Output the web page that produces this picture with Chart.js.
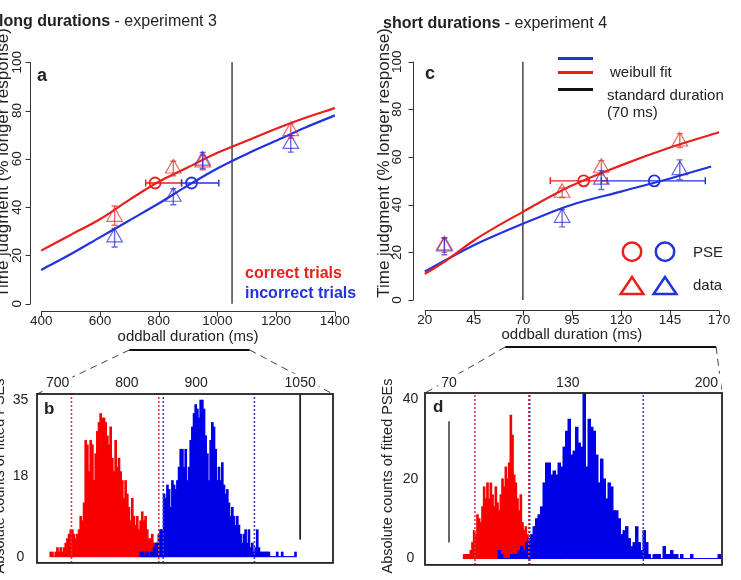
<!DOCTYPE html>
<html><head><meta charset="utf-8">
<script src="https://cdn.jsdelivr.net/npm/chart.js@4.4.1/dist/chart.umd.min.js"></script>
<style>
html,body{margin:0;padding:0;background:#fff;}
#fig{position:relative;width:741px;height:580px;overflow:hidden;background:#fff;font-family:"Liberation Sans",Arial,sans-serif;color:#222;}
canvas{position:absolute;}
.t{position:absolute;white-space:nowrap;line-height:1;}
.yt{position:absolute;white-space:nowrap;line-height:1.15;transform:translate(-50%,-50%) rotate(-90deg);}
.lg{position:absolute;height:3px;width:35px;}
</style></head><body>
<div id="fig">
<canvas id="ov" width="741" height="580" style="left:0px;top:0px"></canvas>
<canvas id="ca" width="372" height="306" style="left:-12px;top:40px"></canvas>
<canvas id="cc" width="361" height="304" style="left:380px;top:40px"></canvas>
<canvas id="cb" width="350" height="220" style="left:-10px;top:360px"></canvas>
<canvas id="cd" width="361" height="220" style="left:380px;top:360px"></canvas>

<div class="t" style="left:-1px;top:13px;font-size:16px"><b>long durations</b> - experiment 3</div>
<div class="t" style="left:383px;top:15px;font-size:16px"><b>short durations</b> - experiment 4</div>
<div class="t" style="left:37px;top:66px;font-size:18px;font-weight:bold">a</div>
<div class="t" style="left:425px;top:64px;font-size:18px;font-weight:bold">c</div>
<div class="t" style="left:44px;top:400px;font-size:17px;font-weight:bold">b</div>
<div class="t" style="left:433px;top:398px;font-size:17px;font-weight:bold">d</div>
<div class="yt" style="left:2.5px;top:163px;font-size:17px">Time judgment (% longer response)</div>
<div class="yt" style="left:383.7px;top:163px;font-size:17px">Time judgment (% longer response)</div>
<div class="yt" style="left:-1px;top:476px;font-size:14.5px">Absolute counts of fitted PSEs</div>
<div class="yt" style="left:387px;top:476px;font-size:14.5px">Absolute counts of fitted PSEs</div>
<div class="t" style="left:245px;top:265px;font-size:16px;font-weight:bold;color:#e8201c">correct trials</div>
<div class="t" style="left:245px;top:285px;font-size:16px;font-weight:bold;color:#2233dd">incorrect trials</div>
<div class="lg" style="left:558px;top:56.5px;background:#2233dd"></div>
<div class="lg" style="left:558px;top:70.5px;background:#e8201c"></div>
<div class="lg" style="left:558px;top:87.5px;background:#111"></div>
<div class="t" style="left:610px;top:64px;font-size:15px">weibull fit</div>
<div class="t" style="left:607px;top:87px;font-size:15px">standard duration</div>
<div class="t" style="left:607px;top:104px;font-size:15px">(70 ms)</div>
<div class="t" style="left:693px;top:244px;font-size:15px">PSE</div>
<div class="t" style="left:693px;top:277px;font-size:15px">data</div>
<svg style="position:absolute;left:600px;top:230px" width="90" height="80">
<circle cx="32" cy="21.7" r="9.2" fill="none" stroke="#e8201c" stroke-width="2.5"/>
<circle cx="65" cy="21.7" r="9.2" fill="none" stroke="#2233dd" stroke-width="2.5"/>
<polygon points="32,47 20.6,64 43.4,64" fill="none" stroke="#e8201c" stroke-width="2.5"/>
<polygon points="65,47 53.6,64 76.4,64" fill="none" stroke="#2233dd" stroke-width="2.5"/>
</svg>
</div>
<script>
// ================= DATA =================
// panel a (long durations, experiment 3)
const xTicksA = [400, 600, 800, 1000, 1200, 1400];
const yTicksPct = [0, 20, 40, 60, 80, 100];
const curveXA = [400, 500, 600, 700, 800, 900, 1000, 1100, 1200, 1300, 1400];
const fitCorrectA = [22, 28.5, 35, 43, 50.5, 56.5, 62.5, 67.5, 72.5, 77, 81];
const fitIncorrectA = [14, 20.5, 27.5, 34.5, 41.5, 49, 56, 62, 67.5, 73, 78];
const trialXA = [650, 850, 950, 1250];
const dataCorrectA = [36, 56, 58.5, 71.5];
const errCorrectLoA = [32.5, 53, 55.5, 68.5];
const errCorrectHiA = [40.5, 59, 61.5, 74.5];
const dataIncorrectA = [27.5, 44.3, 59.3, 66.2];
const errIncorrectLoA = [23.5, 41, 56, 62.8];
const errIncorrectHiA = [31.2, 47.6, 62.6, 69.6];
const pseCorrectA = [788, 50];
const pseCorrectCIA = [756, 878];
const pseIncorrectA = [912, 50];
const pseIncorrectCIA = [878, 1005];
const standardA = 1050;
const zoomWindowA = [700, 1110];

// panel c (short durations, experiment 4)
const xTicksC = [20, 45, 70, 95, 120, 145, 170];
const curveXCorrectC = [20, 30, 45, 70, 95, 120, 145, 170];
const fitCorrectC = [11, 16, 25, 37, 48, 56.5, 64, 70.4];
const curveXIncorrectC = [20, 30, 45, 70, 95, 120, 145, 166];
const fitIncorrectC = [12, 16.5, 23, 32, 40, 45.5, 51, 56];
const trialXC = [30, 90, 110, 150];
const dataCorrectC = [23, 45, 55.5, 66.5];
const errCorrectLoC = [20, 43, 52.5, 64];
const errCorrectHiC = [26, 47, 58.5, 69.8];
const dataIncorrectC = [22.5, 34.5, 50.5, 54.5];
const errIncorrectLoC = [19, 30.7, 46.4, 50.5];
const errIncorrectHiC = [26, 38, 54.3, 58.8];
const pseCorrectC = [101, 50];
const pseCorrectCIC = [84, 113];
const pseIncorrectC = [137, 50];
const pseIncorrectCIC = [110, 163];
const standardC = 70;
const zoomWindowC = [61, 168.5];

// panel b histogram (PSE bootstrap counts, long durations)
const histTicksB = [700, 800, 900, 1050];
const countTicksB = [0, 18, 35];
const binWidthB = 2.4;
const redStartB = 690.2;
const redCountsB = [1,1,0,1,2,1,2,1,2,3, 4,5,6,6,5,4,5,6,9,8, 12,26,25,19,26,25,17,23,28,30,
  32,31,31,30,27,25,29,22,19,26, 20,22,19,17,13,17,14,11,8,13, 9,7,9,6,8,10,8,9,6,4, 4,5,3,3,2,5,6,4];
const blueStartB = 820.1;
const blueCountsB = [1,1,0,1,1,0,1,1,2,3,3,5, 6,6,14,13,
  16,15,11,17,16,15,17,20,24,24, 20,24,17,20,26,29,32,34,33,31, 35,35,33,27,23,17,26,30,29,24,
  17,20,17,21,16,14,15,12,9,11, 9,7,9,7,5,3,5,6,3,6, 2,3,1,2,6,2,1,1,1,1, 1,1,0,0,0,0,1,0,0,1, 0,0,0,0,0,0,0,1];
const ciCorrectB = [720, 846];
const ciIncorrectB = [852.5, 984];
const standardSpanB = [3.8, null];

// panel d histogram (short durations)
const histTicksD = [70, 130, 200];
const countTicksD = [0, 20, 40];
const binWidthRedD = 0.842;
const redStartD = 77.66;
const redCountsD = [1,1,1,1,2,4,7,6,11,10, 9,13,18,15,19,15,19,16,13,18, 14,12,16,20,18,23,20,24,36,31,
  21,19,15,12,16,9,7,8,6,4, 3];
const binWidthBlueD = 1.2626;
const blueStartD = 95.38;
const blueCountsD = [2,1,0,0,0,1,1,1,2,3, 2,4,5,6,8,10,11,13,19,24, 24,21,22,21,24,23,28,32,35,26,
  27,33,29,28,42,23,35,33,32,26, 19,25,20,15,19,18,12,12,10,6, 7,8,5,3,4,8,4,2,7,4,
  1,0,1,1,1,0,3,1,1,2, 1,1,0,1,0,0,0,1,0,0, 0,0,0,0,0,0,0,0,1];
const ciCorrectD = [83.1, 110.3];
const ciIncorrectD = [110.8, 168.1];
const standardSpanD = [4, 34.5];

// ================= STYLE =================
const RED = '#e8201c', BLUE = '#2233dd';
const HRED = '#f80000', HBLUE = '#0000e6';
const TRI_RED = 'rgba(228,45,45,0.72)', TRI_BLUE = 'rgba(45,45,215,0.72)';
Chart.defaults.font.family = '"Liberation Sans", Arial, sans-serif';
Chart.defaults.color = '#222';

const pts = (xs, ys) => xs.map((x, i) => ({x, y: ys[i]}));
const bins = (start, w, counts) => counts.map((c, i) => ({x: +(start + i * w).toFixed(3), y: c}));
const fixTicks = vals => s => { s.ticks = vals.map(v => ({value: v})); };

function rAxes(xt, yt) {
  return { id: 'rAxes', afterDraw(chart) {
    const {ctx, chartArea: ca} = chart; const x = chart.scales.x, y = chart.scales.y;
    ctx.save(); ctx.strokeStyle = '#333'; ctx.lineWidth = 1; ctx.beginPath();
    const yb = Math.round(ca.bottom) + 0.5;
    ctx.moveTo(x.getPixelForValue(xt[0]), yb); ctx.lineTo(x.getPixelForValue(xt[xt.length - 1]), yb);
    xt.forEach(v => { const p = Math.round(x.getPixelForValue(v)) + 0.5; ctx.moveTo(p, yb); ctx.lineTo(p, yb + 5); });
    const xl = Math.round(ca.left) + 0.5;
    ctx.moveTo(xl, y.getPixelForValue(yt[0])); ctx.lineTo(xl, y.getPixelForValue(yt[yt.length - 1]));
    yt.forEach(v => { const p = Math.round(y.getPixelForValue(v)) + 0.5; ctx.moveTo(xl, p); ctx.lineTo(xl - 5, p); });
    ctx.stroke(); ctx.restore();
  }};
}
function vlines(items, before) {
  const draw = chart => {
    const {ctx, chartArea: ca} = chart; const x = chart.scales.x, y = chart.scales.y;
    ctx.save();
    items.forEach(it => {
      const px = x.getPixelForValue(it.x);
      const y0 = it.from == null ? ca.bottom : y.getPixelForValue(it.from);
      const y1 = it.to == null ? ca.top : y.getPixelForValue(it.to);
      ctx.beginPath(); ctx.setLineDash(it.dash || []); ctx.lineWidth = it.width; ctx.strokeStyle = it.color;
      ctx.moveTo(px, y0); ctx.lineTo(px, y1); ctx.stroke();
    });
    ctx.restore();
  };
  return before ? { id: 'vlines', beforeDatasetsDraw: draw } : { id: 'vlines', afterDatasetsDraw: draw };
}
function errBars(vert, horiz) {
  return { id: 'errBars', afterDatasetsDraw(chart) {
    const {ctx} = chart; const xs = chart.scales.x, ys = chart.scales.y;
    ctx.save(); ctx.lineWidth = 1.4;
    vert.forEach(s => {
      ctx.strokeStyle = s.color; ctx.beginPath();
      s.x.forEach((xv, i) => {
        const px = xs.getPixelForValue(xv), p1 = ys.getPixelForValue(s.lo[i]), p2 = ys.getPixelForValue(s.hi[i]);
        ctx.moveTo(px, p1); ctx.lineTo(px, p2);
        ctx.moveTo(px - 3, p1); ctx.lineTo(px + 3, p1); ctx.moveTo(px - 3, p2); ctx.lineTo(px + 3, p2);
      });
      ctx.stroke();
    });
    horiz.forEach(s => {
      ctx.strokeStyle = s.color; ctx.beginPath();
      const py = ys.getPixelForValue(s.y), p1 = xs.getPixelForValue(s.lo), p2 = xs.getPixelForValue(s.hi);
      ctx.moveTo(p1, py); ctx.lineTo(p2, py);
      ctx.moveTo(p1, py - 3.5); ctx.lineTo(p1, py + 3.5); ctx.moveTo(p2, py - 3.5); ctx.lineTo(p2, py + 3.5);
      ctx.stroke();
    });
    ctx.restore();
  }};
}
const frame = { id: 'frame', afterDraw(chart) {
  const {ctx, chartArea: ca} = chart; ctx.save(); ctx.strokeStyle = '#222'; ctx.lineWidth = 1.8;
  ctx.strokeRect(ca.left, ca.top, ca.right - ca.left, ca.bottom - ca.top); ctx.restore();
}};

function psychChart(id, o) {
  return new Chart(document.getElementById(id), {
    type: 'scatter',
    data: { datasets: [
      { data: pts(o.trialX, o.dataC), pointStyle: 'triangle', pointRadius: 9, pointBorderWidth: 1.2,
        pointBorderColor: TRI_RED, pointBackgroundColor: 'rgba(0,0,0,0)', order: 0 },
      { data: pts(o.trialX, o.dataI), pointStyle: 'triangle', pointRadius: 9, pointBorderWidth: 1.2,
        pointBorderColor: TRI_BLUE, pointBackgroundColor: 'rgba(0,0,0,0)', order: 0 },
      { data: [{x: o.pseC[0], y: o.pseC[1]}], pointStyle: 'circle', pointRadius: 5.5, pointBorderWidth: 1.8,
        pointBorderColor: RED, pointBackgroundColor: 'rgba(0,0,0,0)', order: 1 },
      { data: [{x: o.pseI[0], y: o.pseI[1]}], pointStyle: 'circle', pointRadius: 5.5, pointBorderWidth: 1.8,
        pointBorderColor: BLUE, pointBackgroundColor: 'rgba(0,0,0,0)', order: 1 },
      { data: pts(o.curveXC, o.fitC), showLine: true, pointRadius: 0, borderColor: RED, borderWidth: 2.2,
        cubicInterpolationMode: 'monotone', order: 2 },
      { data: pts(o.curveXI, o.fitI), showLine: true, pointRadius: 0, borderColor: BLUE, borderWidth: 2.2,
        cubicInterpolationMode: 'monotone', order: 2 }
    ]},
    options: {
      responsive: false, animation: false, events: [],
      layout: { padding: o.pad },
      plugins: { legend: { display: false }, tooltip: { enabled: false } },
      scales: {
        x: { type: 'linear', min: o.xmin, max: o.xmax, afterBuildTicks: fixTicks(o.xTicks),
          afterFit: s => { s.height = o.xh; },
          grid: { display: false, drawTicks: false }, border: { display: false },
          ticks: { font: { size: 13.5 }, padding: 2.5, autoSkip: false, maxRotation: 0, callback: v => String(v) },
          title: { display: true, text: 'oddball duration (ms)', font: { size: 15 }, padding: { top: 0, bottom: 0 } } },
        y: { type: 'linear', min: o.ymin, max: o.ymax, afterBuildTicks: fixTicks(yTicksPct),
          afterFit: s => { s.width = o.yw; },
          grid: { display: false, drawTicks: false }, border: { display: false },
          ticks: { font: { size: 13.5 }, padding: o.yp, autoSkip: false, minRotation: 90, maxRotation: 90,
            crossAlign: 'center', callback: v => String(v) } }
      }
    },
    plugins: [
      vlines([{ x: o.standard, from: 0, to: 100, color: '#444', width: 1.5 }], true),
      errBars(
        [{ x: o.trialX, lo: o.eCLo, hi: o.eCHi, color: TRI_RED }, { x: o.trialX, lo: o.eILo, hi: o.eIHi, color: TRI_BLUE }],
        [{ y: o.pseC[1], lo: o.ciC[0], hi: o.ciC[1], color: RED }, { y: o.pseI[1], lo: o.ciI[0], hi: o.ciI[1], color: BLUE }]),
      rAxes(o.xTicks, yTicksPct)
    ]
  });
}

function histChart(id, o) {
  const common = { barPercentage: 1, categoryPercentage: 1, borderWidth: 0, grouped: false, inflateAmount: 0.5 };
  return new Chart(document.getElementById(id), {
    type: 'bar',
    data: { datasets: [
      Object.assign({ data: o.blue, xAxisID: 'xb', backgroundColor: HBLUE, order: 1 }, common),
      Object.assign({ data: o.red, xAxisID: 'x', backgroundColor: HRED, order: 2 }, common)
    ]},
    options: {
      responsive: false, animation: false, events: [],
      layout: { padding: o.pad },
      plugins: { legend: { display: false }, tooltip: { enabled: false } },
      scales: {
        x: { type: 'linear', position: 'top', offset: false, min: o.xmin, max: o.xmax,
          afterBuildTicks: fixTicks(o.xTicks), afterFit: s => { s.height = o.xh; },
          grid: { display: false, drawTicks: false }, border: { display: false },
          ticks: { font: { size: 14 }, padding: o.xp, autoSkip: false, maxRotation: 0, callback: v => String(v),
            showLabelBackdrop: true, backdropColor: '#fff', backdropPadding: { left: 3, right: 3, top: 1, bottom: 1 } } },
        xb: { type: 'linear', axis: 'x', position: 'top', offset: false, min: o.xmin, max: o.xmax, display: false },
        y: { type: 'linear', min: o.ymin, max: o.ymax, afterBuildTicks: fixTicks(o.yTicks),
          afterFit: s => { s.width = o.yw; },
          grid: { display: false, drawTicks: false }, border: { display: false },
          ticks: { font: { size: 14 }, padding: o.yp, autoSkip: false, crossAlign: 'center', callback: v => String(v) } }
      }
    },
    plugins: [
      vlines([
        { x: o.ciC[0], color: '#d83a3a', width: 1.6, dash: [2, 2] },
        { x: o.ciC[1], color: '#d83a3a', width: 1.6, dash: [2, 2] },
        { x: o.ciI[0], color: '#4040c8', width: 1.6, dash: [2, 2] },
        { x: o.ciI[1], color: '#4040c8', width: 1.6, dash: [2, 2] },
        { x: o.standard, from: o.stdSpan[0], to: o.stdSpan[1], color: o.stdColor, width: 1.8 }
      ], false),
      frame
    ]
  });
}

const chartA = psychChart('ca', {
  trialX: trialXA, dataC: dataCorrectA, dataI: dataIncorrectA, eCLo: errCorrectLoA, eCHi: errCorrectHiA,
  eILo: errIncorrectLoA, eIHi: errIncorrectHiA, pseC: pseCorrectA, pseI: pseIncorrectA,
  ciC: pseCorrectCIA, ciI: pseIncorrectCIA, curveXC: curveXA, fitC: fitCorrectA, curveXI: curveXA, fitI: fitIncorrectA,
  xTicks: xTicksA, standard: standardA,
  xmin: 362, xmax: 1438, ymin: -3, ymax: 103, pad: { left: 0, right: 14, top: 15, bottom: 0 }, xh: 35, yw: 42, yp: 1
});
const chartC = psychChart('cc', {
  trialX: trialXC, dataC: dataCorrectC, dataI: dataIncorrectC, eCLo: errCorrectLoC, eCHi: errCorrectHiC,
  eILo: errIncorrectLoC, eIHi: errIncorrectHiC, pseC: pseCorrectC, pseI: pseIncorrectC,
  ciC: pseCorrectCIC, ciI: pseIncorrectCIC, curveXC: curveXCorrectC, fitC: fitCorrectC,
  curveXI: curveXIncorrectC, fitI: fitIncorrectC, xTicks: xTicksC, standard: standardC,
  xmin: 14, xmax: 176, ymin: -4, ymax: 104, pad: { left: 0, right: 4, top: 9.4, bottom: 0 }, xh: 34.4, yw: 33, yp: 4
});
const chartB = histChart('cb', {
  red: bins(redStartB, binWidthB, redCountsB), blue: bins(blueStartB, binWidthB, blueCountsB),
  xTicks: histTicksB, yTicks: countTicksB, ciC: ciCorrectB, ciI: ciIncorrectB,
  standard: standardA, stdSpan: standardSpanB, stdColor: '#222',
  xmin: 670.3, xmax: 1097.4, ymin: -1.4, ymax: 36.4, pad: { left: 0, right: 7, top: 0, bottom: 5 }, xh: 34, yw: 47, xp: 2.6, yp: 8.7
});
const chartD = histChart('cd', {
  red: bins(redStartD, binWidthRedD, redCountsD), blue: bins(blueStartD, binWidthBlueD, blueCountsD),
  xTicks: histTicksD, yTicks: countTicksD, ciC: ciCorrectD, ciI: ciIncorrectD,
  standard: standardC, stdSpan: standardSpanD, stdColor: '#555',
  xmin: 57.88, xmax: 207.88, ymin: -1.6, ymax: 41.6, pad: { left: 0, right: 19, top: 0, bottom: 6.5 }, xh: 33, yw: 45, xp: 1.6, yp: 6.7
});

// zoom connectors between the psychometric panels and histograms
(function () {
  const ctx = document.getElementById('ov').getContext('2d');
  const off = c => ({ x: parseFloat(c.canvas.style.left), y: parseFloat(c.canvas.style.top) });
  function conn(top, bot, win, dy) {
    const ot = off(top), ob = off(bot); const xs = top.scales.x;
    const x1 = ot.x + xs.getPixelForValue(win[0]), x2 = ot.x + xs.getPixelForValue(win[1]);
    const y = ot.y + xs.bottom + dy;
    const L = ob.x + bot.chartArea.left, R = ob.x + bot.chartArea.right, T = ob.y + bot.chartArea.top;
    ctx.setLineDash([]); ctx.lineWidth = 2; ctx.strokeStyle = '#111';
    ctx.beginPath(); ctx.moveTo(x1, y); ctx.lineTo(x2, y); ctx.stroke();
    ctx.setLineDash([7, 5]); ctx.lineWidth = 1; ctx.strokeStyle = '#444';
    ctx.beginPath(); ctx.moveTo(x1, y); ctx.lineTo(L, T); ctx.moveTo(x2, y); ctx.lineTo(R, T); ctx.stroke();
  }
  conn(chartA, chartB, zoomWindowA, 4);
  conn(chartC, chartD, zoomWindowC, 3);
})();
</script>
</body></html>
